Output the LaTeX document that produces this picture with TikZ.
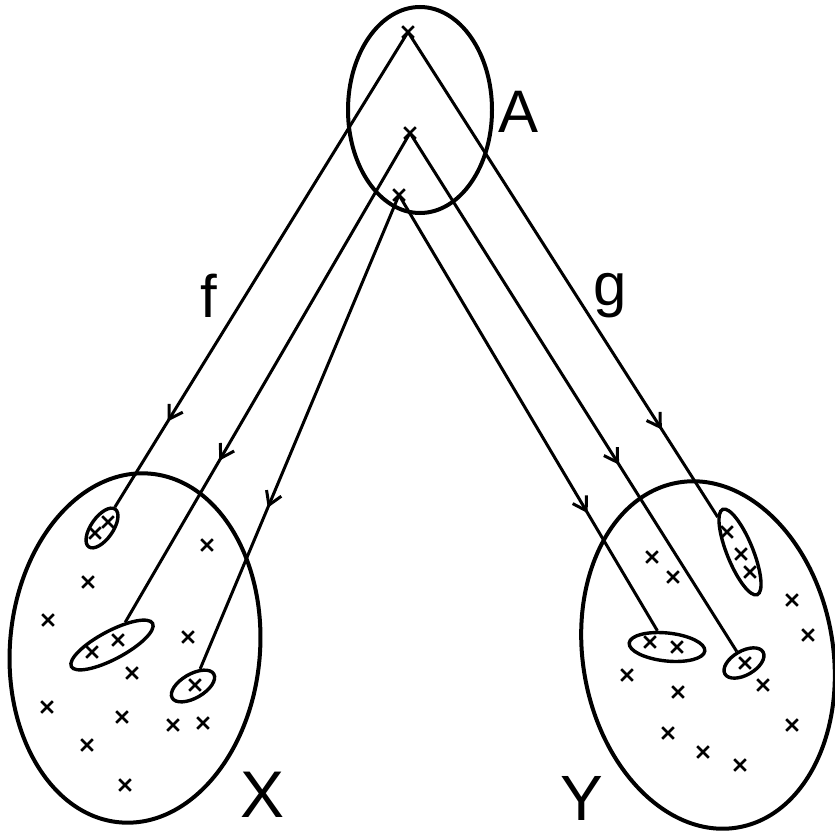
\documentclass[tikz,border=0pt]{standalone}
\usepackage{tikz}
\usetikzlibrary{arrows.meta, decorations.markings, shapes.geometric, shapes.misc}
\usepackage{fontspec}
\setsansfont{Liberation Sans}

\tikzset{
  pt/.style={cross out, draw, minimum size=9pt, inner sep=0pt, line width=2.6pt},
  bigset/.style={ellipse, draw, line width=4pt, inner sep=0pt},
  subset/.style={ellipse, draw, line width=3.4pt, inner sep=0pt},
  map/.style={line width=3pt, postaction={decorate},
    decoration={markings, mark=at position #1 with {\arrow{Straight Barb[length=13pt,width=16pt,line width=3pt]}}}},
  lab/.style={anchor=base, font=\sffamily\fontsize{60}{66}\selectfont},
}

\begin{document}
\begin{tikzpicture}[x=1pt, y=-1pt]
  \useasboundingbox (0,0) rectangle (835,832);
  % 集合
  \node[bigset, minimum width=144pt, minimum height=206pt] (A) at (420,110) {};
  \node[bigset, minimum width=250pt, minimum height=350pt, rotate=-5] (X) at (135,648) {};
  \node[bigset, minimum width=250pt, minimum height=350pt, rotate=10] (Y) at (708,655) {};
  \node[lab] (la) at (519,133) {A};
  \node[lab] (lf) at (209,317) {f};
  \node[lab] (lg) at (610,305) {g};
  \node[lab, font=\sffamily\fontsize{66}{72}\selectfont] (lx) at (263,817) {X};
  \node[lab, font=\sffamily\fontsize{64}{70}\selectfont] (ly) at (582,820) {Y};
  % Aの点
  \node[pt] (p1) at (408,32) {};
  \node[pt] (p2) at (410,133) {};
  \node[pt] (p3) at (399,195) {};
  % Xの部分集合
  \node[subset, minimum width=46pt, minimum height=22pt, rotate=55] (x1) at (102,528) {};
  \node[subset, minimum width=92pt, minimum height=28pt, rotate=28] (x2) at (112,645) {};
  \node[subset, minimum width=48pt, minimum height=24pt, rotate=30] (x3) at (193,686) {};
  % Yの部分集合
  \node[subset, minimum width=92pt, minimum height=26pt, rotate=-68] (y1) at (740,552) {};
  \node[subset, minimum width=76pt, minimum height=28pt, rotate=-6] (y2) at (667,647) {};
  \node[subset, minimum width=44pt, minimum height=24pt, rotate=30] (y3) at (744,663) {};
  % 部分集合の点
  \foreach \x/\y in {95/533, 108/522, 92/652, 118/640, 195/685,
                     727/532, 741/554, 750/572, 650/642, 677/647, 745/663}
    \node[pt] at (\x,\y) {};
  % Xの他の点
  \foreach \x/\y in {207/545, 88/582, 48/620, 188/637, 132/673, 47/707,
                     122/717, 173/725, 203/723, 87/745, 125/785}
    \node[pt] at (\x,\y) {};
  % Yの他の点
  \foreach \x/\y in {652/557, 673/577, 792/600, 808/635, 627/675, 678/692,
                     763/685, 792/725, 668/733, 703/752, 740/765}
    \node[pt] at (\x,\y) {};
  % 写像 f
  \draw[map=0.82] (p1.center) -- (x1);
  \draw[map=0.67] (p2.center) -- (x2);
  \draw[map=0.66] (p3.center) -- (x3);
  % 写像 g
  \draw[map=0.82] (p1.center) -- (y1);
  \draw[map=0.64] (p2.center) -- (y3);
  \draw[map=0.73] (p3.center) -- (y2);
\end{tikzpicture}
\end{document}
